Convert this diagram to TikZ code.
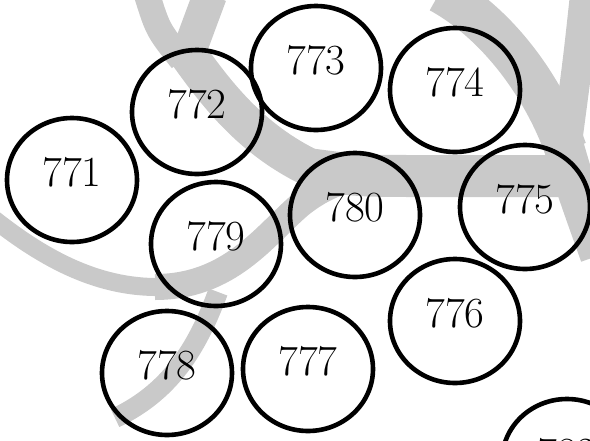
\documentclass[tikz,border=0pt]{standalone}
\usepackage{tikz}
\usetikzlibrary{shapes.geometric}

\begin{document}
\begin{tikzpicture}[x=1pt,y=-1pt]
\tikzset{
  wm/.style={draw=black!21, line width=#1},
  wm/.default=30,
  ring/.style={ellipse, draw, line width=4.6pt, minimum width=130pt, minimum height=124pt,
    inner sep=0pt, text depth=16pt, font=\fontsize{43}{50}\selectfont}
}
\useasboundingbox (0,0) rectangle (590,440);
\clip (0,0) rectangle (590,440);
% ---------- faint watermark ----------
\draw[wm=18] (-10,216) .. controls (40,256) and (95,288) .. (160,287);
\draw[wm=26] (155,287) .. controls (230,287) and (265,235) .. (300,205)
  .. controls (325,185) and (350,176) .. (380,176);
\draw[wm=20] (218,292) .. controls (200,340) and (175,390) .. (115,418);
\draw[wm=42] (300,168) .. controls (360,176) .. (420,176) -- (560,176);
\draw[wm=26] (147,-5) .. controls (158,30) .. (182,60);
\draw[wm=34] (210,-5) .. controls (197,30) .. (186,60);
\draw[wm=38] (185,50) .. controls (215,92) and (250,140) .. (315,170);
\draw[wm=42] (440,-8) .. controls (500,25) and (545,90) .. (566,150);
\draw[wm=30] (585,-5) .. controls (578,60) .. (566,150);
\draw[wm=40] (562,140) .. controls (575,185) .. (600,255);
% ---------- numbered rings ----------
\foreach \n/\x/\y in {771/72/180, 772/197/112, 773/316/68, 774/455/90,
                      775/525/207, 776/455/321, 777/308/369, 778/167/373,
                      779/216/244, 780/355/215, 782/567/461}
  \node[ring] (c\n) at (\x,\y) {\n};
\end{tikzpicture}
\end{document}
